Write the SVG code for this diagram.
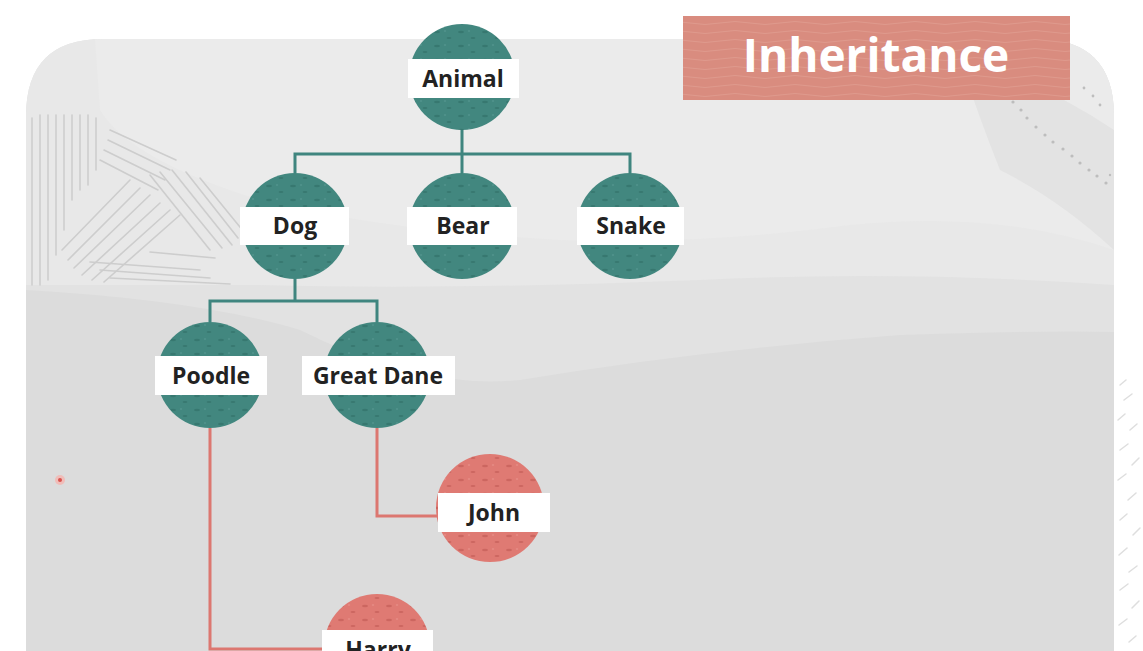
<svg xmlns="http://www.w3.org/2000/svg" width="1143" height="651" viewBox="0 0 1143 651">
<style>
.lbl{fill:#ffffff}
.lt{font-family:"Open Sans","Liberation Sans",sans-serif;font-weight:700;font-size:23px;fill:#222222;text-anchor:middle}
.teal{fill:url(#spotT)}
.red{fill:url(#spotR)}
.cT{fill:none;stroke:#3f857f;stroke-width:3}
.cR{fill:none;stroke:#dc7770;stroke-width:3}
.hatch line{stroke:#cdcdcd;stroke-width:1.6;stroke-linecap:round}
</style>
<defs>
<pattern id="spotT" width="24" height="14" patternUnits="userSpaceOnUse">
<rect width="24" height="14" fill="#42877f"/>
<ellipse cx="5" cy="4" rx="3" ry="1.2" fill="#377870"/>
<ellipse cx="17" cy="10" rx="2.5" ry="1" fill="#377870"/>
<ellipse cx="13" cy="3" rx="1.2" ry="0.8" fill="#54968f"/>
</pattern>
<pattern id="spotR" width="24" height="14" patternUnits="userSpaceOnUse">
<rect width="24" height="14" fill="#df7a73"/>
<ellipse cx="5" cy="4" rx="3" ry="1.2" fill="#cc6660"/>
<ellipse cx="17" cy="10" rx="2.5" ry="1" fill="#cc6660"/>
<ellipse cx="13" cy="3" rx="1.2" ry="0.8" fill="#e89089"/>
</pattern>
<pattern id="wave" width="60" height="9" patternUnits="userSpaceOnUse">
<rect width="60" height="9" fill="#d98c7f"/>
<path d="M0 5 Q15 2 30 5 T60 5" fill="none" stroke="#df9a8d" stroke-width="1"/>
</pattern>
<clipPath id="panelClip">
<path d="M26 651 L26 116 Q26 39 103 39 L1037 39 Q1114 39 1114 116 L1114 651 Z"/>
</clipPath>
</defs>
<rect width="1143" height="651" fill="#ffffff"/>
<g id="background">
<path d="M26 651 L26 116 Q26 39 103 39 L1037 39 Q1114 39 1114 116 L1114 651 Z" fill="#e2e2e2"/>
<g clip-path="url(#panelClip)">
<path d="M26 39 L1114 39 L1114 285 Q900 270 700 280 Q450 290 260 285 L26 285 Z" fill="#e8e8e8"/>
<path d="M95 39 L1114 39 L1114 250 Q1000 210 850 225 Q700 245 560 240 Q380 230 260 200 Q130 160 100 110 Z" fill="#ebebeb"/>
<path d="M26 651 L26 290 Q200 300 300 330 Q420 390 520 380 Q700 350 900 335 Q1050 330 1114 332 L1114 651 Z" fill="#dcdcdc"/>
<path d="M960 60 Q1040 80 1114 130 L1114 250 Q1060 200 1000 170 Q980 120 960 60 Z" fill="#e3e3e3"/>
<g class="hatch">
<line x1="32" y1="118" x2="32" y2="285"/><line x1="40" y1="115" x2="40" y2="285"/><line x1="48" y1="115" x2="48" y2="280"/><line x1="56" y1="115" x2="56" y2="255"/><line x1="64" y1="115" x2="64" y2="230"/><line x1="72" y1="115" x2="72" y2="200"/><line x1="80" y1="115" x2="80" y2="190"/><line x1="88" y1="115" x2="88" y2="185"/><line x1="96" y1="118" x2="96" y2="170"/>
<line x1="62" y1="250" x2="130" y2="180"/><line x1="68" y1="260" x2="140" y2="188"/><line x1="74" y1="268" x2="150" y2="195"/><line x1="82" y1="275" x2="160" y2="203"/><line x1="92" y1="280" x2="170" y2="210"/><line x1="104" y1="282" x2="180" y2="215"/>
<line x1="108" y1="140" x2="170" y2="170"/><line x1="104" y1="150" x2="165" y2="180"/><line x1="100" y1="160" x2="158" y2="190"/><line x1="110" y1="130" x2="176" y2="160"/>
<line x1="150" y1="175" x2="210" y2="250"/><line x1="160" y1="172" x2="222" y2="248"/><line x1="172" y1="170" x2="232" y2="245"/><line x1="186" y1="172" x2="238" y2="238"/><line x1="200" y1="178" x2="244" y2="232"/>
<line x1="90" y1="262" x2="200" y2="270"/><line x1="100" y1="270" x2="210" y2="278"/><line x1="110" y1="278" x2="230" y2="284"/><line x1="150" y1="252" x2="215" y2="258"/>
</g>
<g fill="#bdbdbd">
<circle cx="1013" cy="102" r="1.6"/><circle cx="1021" cy="110" r="1.6"/><circle cx="1027" cy="118" r="1.6"/><circle cx="1036" cy="127" r="1.6"/><circle cx="1045" cy="135" r="1.6"/><circle cx="1053" cy="142" r="1.6"/><circle cx="1063" cy="149" r="1.6"/><circle cx="1072" cy="156" r="1.6"/><circle cx="1080" cy="163" r="1.6"/><circle cx="1089" cy="170" r="1.6"/><circle cx="1097" cy="176" r="1.6"/><circle cx="1106" cy="183" r="1.6"/><circle cx="1110" cy="175" r="1.2"/>
<circle cx="1084" cy="88" r="1.4"/><circle cx="1093" cy="96" r="1.4"/><circle cx="1100" cy="105" r="1.4"/>
</g>
</g>
<g stroke="#dedede" stroke-width="1.5" stroke-linecap="round">
<line x1="1120" y1="385" x2="1126" y2="380"/><line x1="1124" y1="400" x2="1132" y2="394"/><line x1="1118" y1="420" x2="1125" y2="414"/><line x1="1130" y1="430" x2="1137" y2="424"/><line x1="1120" y1="450" x2="1128" y2="444"/><line x1="1132" y1="465" x2="1139" y2="458"/><line x1="1118" y1="480" x2="1126" y2="474"/><line x1="1128" y1="500" x2="1136" y2="493"/><line x1="1120" y1="520" x2="1127" y2="514"/><line x1="1133" y1="535" x2="1140" y2="528"/><line x1="1119" y1="555" x2="1127" y2="548"/><line x1="1129" y1="572" x2="1137" y2="566"/><line x1="1120" y1="590" x2="1128" y2="584"/><line x1="1132" y1="608" x2="1139" y2="601"/><line x1="1119" y1="625" x2="1127" y2="619"/><line x1="1129" y1="642" x2="1136" y2="636"/>
</g>
<circle cx="60" cy="480" r="5" fill="#f0bdb9"/><circle cx="60" cy="480" r="2" fill="#d9534f"/>
</g>
<g id="title">
<rect x="683" y="16" width="387" height="84" fill="url(#wave)"/>
<text x="876" y="72" font-family="'Open Sans','Liberation Sans',sans-serif" font-weight="700" font-size="46" fill="#ffffff" text-anchor="middle">Inheritance</text>
</g>
<g id="connectors">
<path class="cT" d="M462 128 V154 M295 173 V154 H630 V173 M462 154 V173"/>
<path class="cT" d="M295 278 V301 M210 322 V301 H377 V322"/>
<path class="cR" d="M377 428 V516 H438"/>
<path class="cR" d="M210 428 V649 H323"/>
</g>
<g id="node-animal"><circle class="teal" cx="462" cy="77" r="53"/><rect class="lbl" x="408" y="59" width="111" height="39"/><text class="lt" x="463" y="87">Animal</text></g>
<g id="node-dog"><circle class="teal" cx="295" cy="226" r="53"/><rect class="lbl" x="240" y="207" width="109" height="38"/><text class="lt" x="295" y="234">Dog</text></g>
<g id="node-bear"><circle class="teal" cx="462" cy="226" r="53"/><rect class="lbl" x="407" y="207" width="110" height="38"/><text class="lt" x="463" y="234">Bear</text></g>
<g id="node-snake"><circle class="teal" cx="630" cy="226" r="53"/><rect class="lbl" x="577" y="207" width="107" height="38"/><text class="lt" x="631" y="234">Snake</text></g>
<g id="node-poodle"><circle class="teal" cx="210" cy="375" r="53"/><rect class="lbl" x="155" y="356" width="112" height="39"/><text class="lt" x="211" y="384">Poodle</text></g>
<g id="node-greatdane"><circle class="teal" cx="377" cy="375" r="53"/><rect class="lbl" x="302" y="356" width="153" height="39"/><text class="lt" x="378" y="384">Great Dane</text></g>
<g id="node-john"><circle class="red" cx="490" cy="508" r="54"/><rect class="lbl" x="438" y="493" width="112" height="39"/><text class="lt" x="494" y="521">John</text></g>
<g id="node-harry"><circle class="red" cx="377" cy="647" r="53"/><rect class="lbl" x="322" y="630" width="111" height="39"/><text class="lt" x="378" y="658">Harry</text></g>
</svg>
